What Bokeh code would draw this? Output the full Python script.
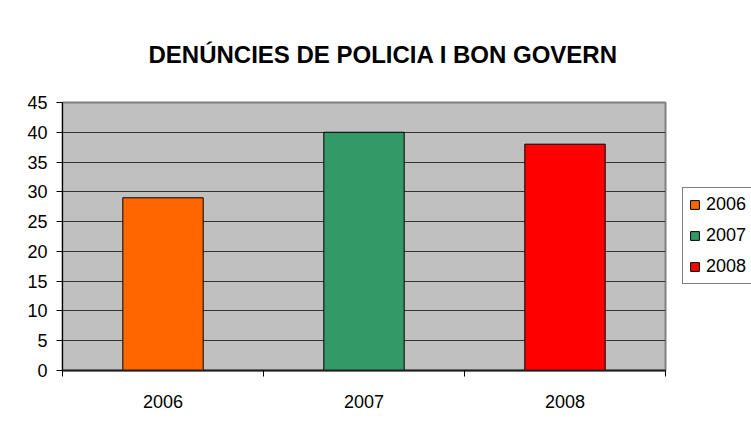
from bokeh.plotting import figure
from bokeh.models import (ColumnDataSource, Range1d, FixedTicker, Legend, LegendItem, Title)
from bokeh.embed import file_html
from bokeh.resources import INLINE

# ---- data ----
years = ["2006", "2007", "2008"]
counts = [29, 40, 38]
colors = ["#FF6600", "#339966", "#FF0000"]
y_ticks = [0, 5, 10, 15, 20, 25, 30, 35, 40, 45]
title_text = "DENÚNCIES DE POLICIA I BON GOVERN"

FONT = "Liberation Sans"

# ---- layout (pixels) ----
W, H = 751, 425
FL, FR, FT, FB = 62, 665, 102, 370          # plot frame edges

xs = [i + 0.5 for i in range(len(years))]
bounds = list(range(len(years) + 1))

src = ColumnDataSource(dict(x=xs, top=counts, color=colors))

p = figure(frame_width=FR - FL, frame_height=FB - FT,
           output_backend="svg", toolbar_location=None, title_location=None,
           min_border_left=FL, min_border_right=W - FR,
           min_border_top=FT, min_border_bottom=H - FB)
p.x_range = Range1d(0, len(years))
p.y_range = Range1d(y_ticks[0], y_ticks[-1])

p.background_fill_color = "#C0C0C0"
p.border_fill_color = "white"
p.outline_line_color = "#808080"
p.outline_line_width = 2

r = p.vbar(x="x", top="top", width=0.4, bottom=0, source=src,
           fill_color="color", line_color="black", line_width=1)

# title (a large standoff lifts it away from the frame)
p.add_layout(Title(text=title_text, align="left", offset=86, standoff=70,
                   vertical_align="bottom", text_font=FONT, text_font_size="24px",
                   text_font_style="bold", text_color="black"), "above")

# x axis
xa = p.xaxis[0]
xa.ticker = FixedTicker(ticks=xs, minor_ticks=bounds)
xa.major_label_overrides = {x: y for x, y in zip(xs, years)}
xa.major_tick_out = 0
xa.major_tick_in = 0
xa.minor_tick_out = 6
xa.minor_tick_in = 0
xa.minor_tick_line_color = "black"
xa.axis_line_color = "#222222"
xa.axis_line_width = 2
xa.major_label_standoff = 18
xa.major_label_text_font = FONT
xa.major_label_text_font_size = "18px"
xa.major_label_text_color = "black"

# y axis
ya = p.yaxis[0]
ya.ticker = FixedTicker(ticks=y_ticks)
ya.minor_tick_line_color = None
ya.major_tick_out = 6
ya.major_tick_in = 0
ya.major_tick_line_color = "black"
ya.axis_line_color = "black"
ya.major_label_standoff = 9
ya.major_label_text_font = FONT
ya.major_label_text_font_size = "18px"
ya.major_label_text_color = "black"

# grid
p.xgrid.visible = False
p.ygrid.ticker = FixedTicker(ticks=y_ticks[1:-1])
p.ygrid.grid_line_color = "#333333"
p.ygrid.grid_line_width = 1

# legend in the right panel (location in pixels from the panel's bottom-left)
items = [LegendItem(label=years[i], renderers=[r], index=i) for i in range(len(years))]
legend = Legend(items=items, location=(682 - FR, FB - 284), orientation="vertical",
                glyph_width=11, glyph_height=11, label_height=20, spacing=10,
                padding=6, margin=0, label_standoff=6,
                label_text_font=FONT, label_text_font_size="18px", label_text_color="black",
                border_line_color="black", border_line_width=1,
                background_fill_color="white", background_fill_alpha=1)
p.add_layout(legend, "right")

open("out.html", "w").write(file_html(p, INLINE))
